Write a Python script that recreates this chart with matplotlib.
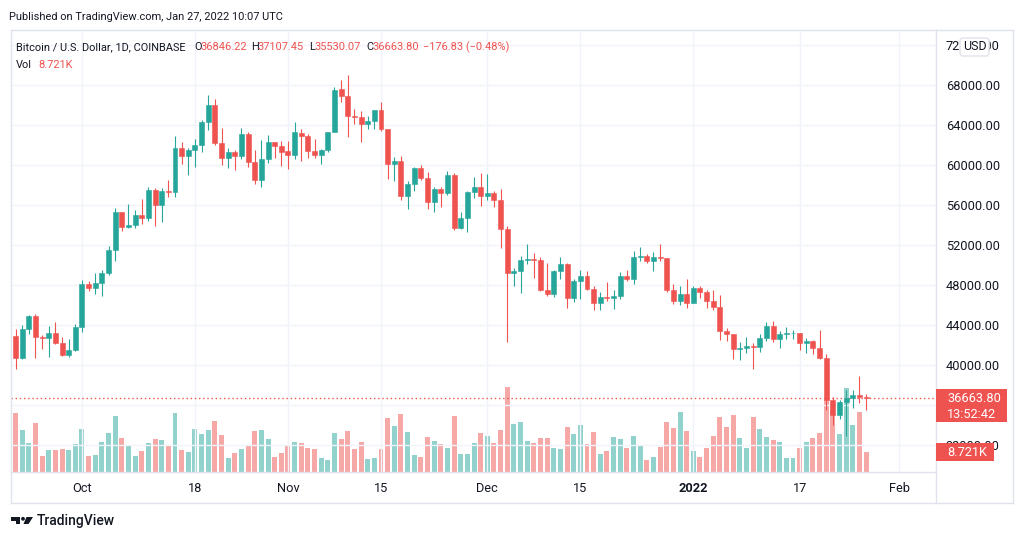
import matplotlib
matplotlib.use('Agg')
import matplotlib.pyplot as plt
import matplotlib.dates as mdates
from matplotlib.patches import Rectangle, FancyBboxPatch, Polygon, Circle
import numpy as np
import pandas as pd

plt.rcParams['font.family'] = ['Roboto', 'DejaVu Sans']

# ---------------- data ----------------
dates = pd.date_range('2021-09-21', '2022-01-27', freq='D')

opens = [42930, 40700, 43570, 44890, 42830, 42700, 43190, 42170, 41030, 41520,
         43790, 48140, 47660, 48230, 49250, 51510, 55340, 53800, 53960, 54960, 54700, 57480, 56010, 57380, 57340,
         61680, 60880, 61530, 62040, 64280, 66000, 62200, 60690, 61300, 60860, 63080, 60330, 58460, 60590, 62270, 61890,
         61350, 61030, 63250, 62950, 61450, 61000, 61530, 63300, 67550, 66930, 64900, 64810, 64150, 64400, 65510,
         63620, 60140, 60370, 56900, 58100, 59730, 58710, 56300, 57580, 57170, 58960, 53730, 54750, 57300, 57830,
         56950, 57200, 56500, 53600, 49200, 49400, 50550, 50600, 50500, 47550, 47150, 49400, 50100, 46700, 48380,
         48900, 47650, 46200, 46850, 46700, 46900, 48900, 48600, 50850, 50900, 50400, 50800, 50700, 47550, 46450, 47150,
         46200, 47740, 47300, 46450, 45830, 43430, 43080, 41560, 41680, 41870, 41830, 42740, 43920, 42590, 43100,
         43180, 43230, 42250, 42380, 41700, 40700, 36460, 35050, 36280, 36680, 36960, 36846.22]
highs = [43640, 44000, 44980, 45150, 42960, 43930, 44350, 42780, 42620, 44120,
         48490, 48360, 49230, 49510, 51900, 55750, 55340, 56100, 55500, 56560, 57800, 57680, 57700, 58540, 62930,
         62330, 61720, 62650, 64500, 67000, 66640, 63730, 61750, 61490, 63710, 63290, 61500, 62500, 62960, 62300, 62400,
         62450, 64300, 63560, 63100, 62600, 61590, 63300, 67800, 68530, 69000, 65600, 65450, 64950, 65520, 66340,
         63620, 60800, 60950, 58400, 59850, 60000, 59300, 57850, 57800, 59400, 59170, 55300, 57400, 58850, 59200,
         59100, 57400, 57600, 53900, 49700, 50900, 52100, 51200, 50800, 50200, 49500, 50800, 50200, 48600, 49500,
         49450, 47950, 47350, 48350, 47550, 49300, 49550, 51400, 51850, 51150, 51300, 52100, 50700, 48150, 47900, 48600,
         47900, 47950, 47550, 47500, 47050, 43750, 43150, 42300, 42800, 42250, 43100, 44300, 44450, 43450, 43800,
         43500, 43250, 42700, 42550, 43500, 41100, 36800, 36500, 37500, 37550, 38920, 37107.45]
lows = [39600, 40560, 43080, 40680, 41650, 40780, 42100, 40920, 40760, 41410,
        43290, 47440, 47120, 46900, 49050, 50400, 53400, 53660, 53700, 54100, 54440, 53900, 54300, 56850, 56850,
        60150, 58960, 59850, 61350, 63480, 62000, 60000, 59700, 59530, 60650, 59850, 58100, 57800, 60160, 60700, 59950,
        59600, 60650, 60400, 60700, 60750, 60150, 61350, 63300, 66300, 62800, 64150, 62300, 63600, 63600, 63400,
        58600, 58400, 56500, 55650, 57400, 58500, 55650, 55300, 55850, 57000, 53500, 53650, 53300, 56700, 55900,
        56500, 55850, 51700, 42300, 47900, 47200, 50100, 48700, 47400, 46900, 46800, 48650, 45700, 46300, 46600,
        47550, 45500, 45550, 46450, 45600, 46650, 48450, 48100, 50450, 50200, 49450, 50450, 47350, 46100, 46000, 45700,
        46200, 46700, 45700, 45500, 42500, 42450, 40600, 40500, 41250, 39650, 41300, 42450, 42300, 41750, 42600,
        42650, 41550, 41250, 41150, 40600, 35500, 34000, 34600, 32900, 35700, 36250, 35530.07]
closes = [40700, 43570, 44890, 42830, 42700, 43190, 42170, 41030, 41520, 43790,
          48140, 47660, 48230, 49250, 51510, 55340, 53800, 53960, 54960, 54700, 57480, 56010, 57380, 57340, 61680,
          60880, 61530, 62040, 64280, 66000, 62200, 60690, 61300, 60860, 63080, 60330, 58460, 60590, 62270, 61890, 61350,
          61030, 63250, 62950, 61450, 61000, 61530, 63300, 67550, 66930, 64900, 64810, 64150, 64400, 65510, 63620,
          60140, 60370, 56900, 58100, 59730, 58710, 56300, 57580, 57170, 58960, 53730, 54750, 57300, 57830, 56950,
          57200, 56500, 53600, 49200, 49400, 50550, 50600, 50500, 47550, 47150, 49400, 50100, 46700, 48380, 48900,
          47650, 46200, 46850, 46700, 46900, 48900, 48600, 50850, 50900, 50400, 50800, 50700, 47550, 46450, 47150, 46200,
          47740, 47300, 46450, 45830, 43430, 43080, 41560, 41680, 41870, 41830, 42740, 43920, 42590, 43100, 43180,
          43230, 42250, 42380, 41700, 40700, 36460, 35050, 36280, 36680, 36960, 36840.63, 36663.80]
volumes_k = [25.7, 18.3, 12.6, 21.4, 7.0, 9.6, 9.6, 10.0, 9.6, 12.2,
             18.7, 7.0, 7.4, 13.1, 17.0, 24.4, 14.8, 11.8, 7.0, 9.2, 12.6, 14.4, 14.0, 11.8, 25.7,
             9.6, 8.7, 18.7, 16.6, 18.3, 22.2, 16.1, 6.1, 8.3, 10.0, 11.8, 17.9, 18.3, 14.4, 6.5, 8.3,
             11.3, 13.1, 12.6, 10.5, 10.0, 6.1, 5.2, 17.0, 14.4, 17.9, 10.0, 13.1, 5.7, 6.1, 10.0,
             23.5, 20.1, 25.3, 17.4, 7.4, 6.5, 15.3, 13.5, 12.2, 10.5, 24.4, 7.8, 7.8, 12.6, 17.0,
             15.7, 12.6, 18.3, 37.1, 20.9, 21.8, 13.5, 12.6, 14.8, 14.8, 10.5, 10.0, 19.6, 16.6, 20.5,
             12.2, 17.4, 7.8, 9.2, 15.3, 14.4, 10.5, 15.7, 11.3, 5.2, 6.5, 10.9, 21.8, 19.2, 26.2, 17.9,
             9.2, 6.5, 10.5, 15.7, 24.0, 19.6, 24.9, 14.8, 10.5, 24.0, 18.7, 15.3, 14.0, 13.1, 6.1,
             6.1, 10.5, 13.1, 14.8, 17.0, 31.4, 27.0, 16.6, 36.6, 20.5, 26.2, 8.721]

tick_dates = ['2021-10-01', '2021-10-18', '2021-11-01', '2021-11-15', '2021-12-01',
              '2021-12-15', '2022-01-01', '2022-01-17', '2022-02-01']
tick_labels = ['Oct', '18', 'Nov', '15', 'Dec', '15', '2022', '17', 'Feb']
price_ticks = [32000, 36000, 40000, 44000, 48000, 52000, 56000, 60000, 64000, 68000, 72000]

assert len(dates) == len(opens) == len(highs) == len(lows) == len(closes) == len(volumes_k)

# ---------------- style ----------------
UP = '#26a69a'
DN = '#ef5350'
TXT = '#131722'
GRID = '#f0f3fa'
BORDER = '#e0e3eb'
HFS = 7.9  # header font size

W, H = 1024, 542
fig = plt.figure(figsize=(W / 100, H / 100), dpi=100)
fig.patch.set_facecolor('white')

L, T, R, B = 11, 30, 936, 472
rect = [L / W, 1 - B / H, (R - L) / W, (B - T) / H]
vax = fig.add_axes(rect, zorder=1)
ax = fig.add_axes(rect, zorder=2, sharex=vax)
ax.patch.set_visible(False)

x = mdates.date2num(dates)
o = np.array(opens, float)
h = np.array(highs, float)
l = np.array(lows, float)
c = np.array(closes, float)
v = np.array(volumes_k, float)
up = c >= o
cols = np.where(up, UP, DN)

oct1 = mdates.date2num(pd.Timestamp('2021-10-01'))
ax.set_xlim(oct1 - 10.68, oct1 + 128.52)
ax.set_ylim(29300, 73500)
vax.set_ylim(0, 8.721 * (B - T) / 20.0)

# volume
vax.bar(x, v, width=0.75, color=cols, alpha=0.5, linewidth=0)
vax.set_yticks([])
for s in vax.spines.values():
    s.set_visible(False)
vax.tick_params(axis='x', which='both', bottom=False, labelbottom=False)

# grid / ticks
# the last-price badge fully covers the 36000 label, so that label is left blank
ax.set_yticks(price_ticks)
ax.set_yticklabels(["" if p == 36000 else f"{p:.2f}" for p in price_ticks])
ax.set_xticks(mdates.date2num(pd.to_datetime(tick_dates)))
ax.set_xticklabels(tick_labels)
ax.grid(True, color=GRID, linewidth=1)
ax.set_axisbelow(True)
ax.yaxis.tick_right()
ax.tick_params(axis='y', length=0, pad=7.0, labelsize=9.2, labelcolor=TXT)
ax.tick_params(axis='x', length=0, pad=7.5, labelsize=9.2, labelcolor=TXT)
for lab in ax.get_xticklabels():
    if lab.get_text() == '2022':
        lab.set_fontweight('bold')
for s in ax.spines.values():
    s.set_color(BORDER)
    s.set_linewidth(1)

# candles
ax.vlines(x, l, h, colors=cols, linewidth=0.8, zorder=3)
body_bottom = np.minimum(o, c)
body_h = np.maximum(np.abs(c - o), 70)
ax.bar(x, body_h, bottom=body_bottom, width=0.75, color=cols, edgecolor=cols, linewidth=0.4, zorder=4)

# last price line
ax.axhline(c[-1], color=DN, linewidth=1, linestyle=(0, (1, 2)), zorder=2)

# ---------------- overlay (pixel coords) ----------------
ov = fig.add_axes([0, 0, 1, 1], zorder=10)
ov.set_xlim(0, W)
ov.set_ylim(H, 0)
ov.axis('off')
ov.patch.set_visible(False)

# outer frame
ov.plot([R, 1013], [T, T], color=BORDER, lw=1)
ov.plot([1013, 1013], [T, 503], color=BORDER, lw=1)
ov.plot([L, 1013], [503, 503], color=BORDER, lw=1)
ov.plot([L, L], [B, 503], color=BORDER, lw=1)
ov.plot([R, R], [B, 503], color=BORDER, lw=1)

# header
ov.text(9, 17, "Published on TradingView.com, Jan 27, 2022 10:07 UTC", fontsize=HFS,
        color=TXT, va='center', ha='left')
yh = 47
ov.text(16, yh, "Bitcoin / U.S. Dollar, 1D, COINBASE", fontsize=HFS, color=TXT, va='center')
chg = c[-1] - c[-2]
pct = chg / c[-2] * 100
segs = [("O", 194, TXT), (f"{o[-1]:.2f}", 200, DN),
        ("H", 251, TXT), (f"{h[-1]:.2f}", 257, DN),
        ("L", 309, TXT), (f"{l[-1]:.2f}", 314.5, DN),
        ("C", 366, TXT), (f"{c[-1]:.2f}", 372, DN),
        (f"{chg:.2f} ({pct:.2f}%)".replace('-', '\u2212'), 423, DN)]
for txt, px, colr in segs:
    ov.text(px, yh, txt, fontsize=HFS, color=colr, va='center', ha='left')
ov.text(16, 65, "Vol", fontsize=HFS, color=TXT, va='center')
ov.text(38, 65, f"{v[-1]:.3f}K", fontsize=HFS, color=DN, va='center')

# USD badge
ov.add_patch(FancyBboxPatch((960, 38), 29, 18, boxstyle="round,pad=0,rounding_size=3",
                            facecolor='white', edgecolor=BORDER, lw=1))
ov.text(974.5, 47, "USD", fontsize=9.0, color=TXT, va='center', ha='center')

# last price label
fig.canvas.draw()
py = H - ax.transData.transform((x[-1], c[-1]))[1]
ov.add_patch(Rectangle((R, py - 9.5), 71, 33, facecolor=DN, edgecolor='none'))
ov.text(947, py + 0.5, f"{c[-1]:.2f}", fontsize=9.2, color='white', va='center', ha='left')
ov.text(947, py + 16, "13:52:42", fontsize=9.2, color='white', va='center', ha='left')

vy = H - vax.transData.transform((x[-1], v[-1]))[1]
ov.add_patch(Rectangle((R, vy - 9), 58, 18, facecolor=DN, edgecolor='none'))
ov.text(947, vy, f"{v[-1]:.3f}K", fontsize=9.2, color='white', va='center', ha='left')

# footer logo
ov.add_patch(Polygon([(11, 517), (20, 517), (20, 524), (15.5, 524), (15.5, 520.5), (11, 520.5)],
                     closed=True, facecolor=TXT, edgecolor='none'))
ov.add_patch(Circle((23, 518.8), 1.9, facecolor=TXT, edgecolor='none'))
ov.add_patch(Polygon([(26.5, 517), (33, 517), (28.5, 524), (23.5, 524)],
                     closed=True, facecolor=TXT, edgecolor='none'))
ov.text(37, 521, "TradingView", fontsize=10.0, color=TXT, va='center', ha='left', fontweight='medium')

fig.savefig('out.png', dpi=100, facecolor='white')
